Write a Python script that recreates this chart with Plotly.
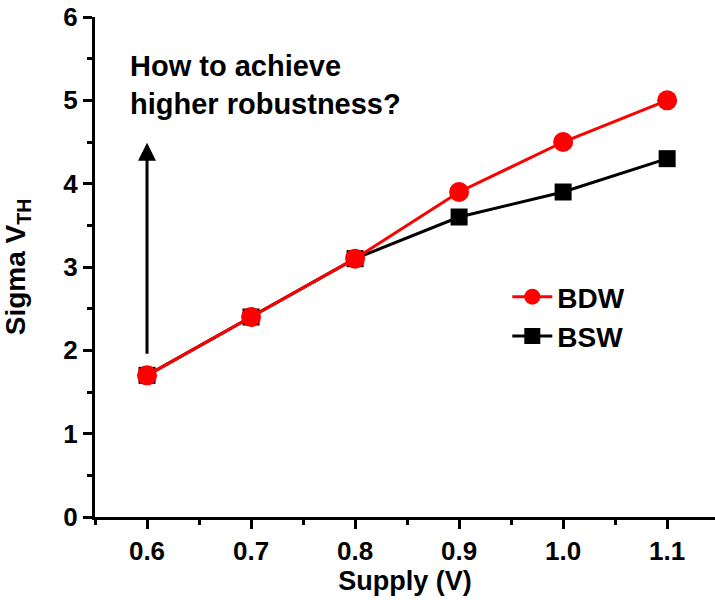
import plotly.graph_objects as go

supply = [0.6, 0.7, 0.8, 0.9, 1.0, 1.1]
bdw = [1.7, 2.4, 3.1, 3.9, 4.5, 5.0]
bsw = [1.7, 2.4, 3.1, 3.6, 3.9, 4.3]
x_ticks = [0.6, 0.7, 0.8, 0.9, 1.0, 1.1]
x_tick_labels = ["0.6", "0.7", "0.8", "0.9", "1.0", "1.1"]
y_ticks = [0, 1, 2, 3, 4, 5, 6]

FONT = "Arial, Liberation Sans, sans-serif"

fig = go.Figure()
fig.add_trace(go.Scatter(
    x=supply, y=bsw, name="BSW", mode="lines+markers",
    line=dict(color="black", width=3),
    marker=dict(symbol="square", size=17, color="black"),
))
fig.add_trace(go.Scatter(
    x=supply, y=bdw, name="BDW", mode="lines+markers",
    line=dict(color="#ff0000", width=3),
    marker=dict(symbol="circle", size=20, color="#ff0000"),
))

fig.add_annotation(
    x=0.6, y=4.49, ax=0.6, ay=1.94, xref="x", yref="y", axref="x", ayref="y",
    showarrow=True, arrowhead=2, arrowsize=1.2, arrowwidth=3, arrowcolor="black", text="",
)
fig.add_annotation(
    x=0.582, y=5.63, xref="x", yref="y", xanchor="left", yanchor="top",
    text="How to achieve<br>higher robustness?", showarrow=False, align="left",
    font=dict(family=FONT, size=29, color="black", weight="bold"),
)

fig.update_layout(
    width=715, height=600,
    margin=dict(l=95, r=0, t=17, b=83),
    plot_bgcolor="white", paper_bgcolor="white",
    showlegend=True,
    legend=dict(
        x=0.665, y=0.49, xanchor="left", yanchor="top",
        traceorder="reversed",
        font=dict(family=FONT, size=28, color="black", weight="bold"),
        bgcolor="rgba(0,0,0,0)", itemwidth=40, tracegroupgap=0,
    ),
    xaxis=dict(
        range=[0.55, 1.146], tickvals=x_ticks, ticktext=x_tick_labels,
        showline=True, linecolor="black", linewidth=3, showgrid=False, zeroline=False,
        ticks="outside", ticklen=9, tickwidth=3, tickcolor="black",
        minor=dict(ticks="outside", ticklen=5, tickwidth=3, tickcolor="black", dtick=0.05, tick0=0.55),
        tickfont=dict(family=FONT, size=26, color="black", weight="bold"),
        ticklabeloverflow="allow",
        title=dict(text="Supply (V)", font=dict(family=FONT, size=27, color="black", weight="bold"), standoff=3),
        automargin=False,
    ),
    yaxis=dict(
        range=[0, 6], tickvals=y_ticks,
        showline=True, linecolor="black", linewidth=3, showgrid=False, zeroline=False,
        ticks="outside", ticklen=9, tickwidth=3, tickcolor="black",
        minor=dict(ticks="outside", ticklen=5, tickwidth=3, tickcolor="black", dtick=0.5),
        tickfont=dict(family=FONT, size=26, color="black", weight="bold"),
        ticklabeloverflow="allow",
        title=dict(text="Sigma V<sub>TH</sub>", font=dict(family=FONT, size=28, color="black", weight="bold"), standoff=34),
        automargin=True,
    ),
)

fig.write_html("out.html", post_script="document.body.style.margin='0';",
               config={"displayModeBar": False})
